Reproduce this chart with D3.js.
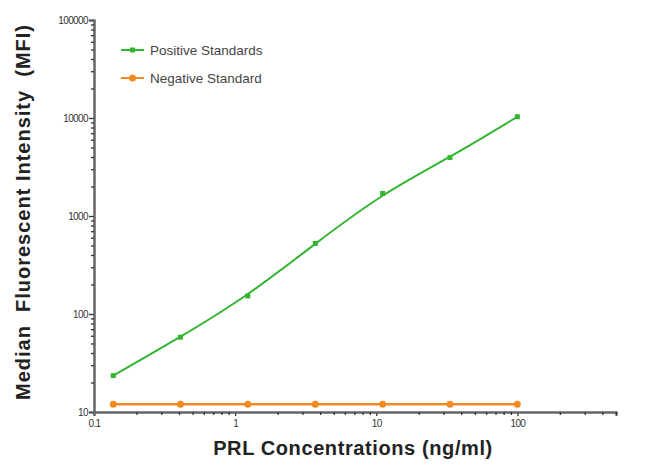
<!DOCTYPE html>
<html><head><meta charset="utf-8">
<script src="https://cdn.jsdelivr.net/npm/d3@7"></script>
<style>body{margin:0;background:#fff}svg{display:block}text{font-family:Arial,"Liberation Sans",sans-serif}</style>
</head><body>
<svg id="c" width="650" height="473"></svg>
<script>
const concentrations = [0.137, 0.41, 1.23, 3.7, 11.1, 33.3, 100];
const positiveMFI = [23.5, 58, 153, 525, 1700, 3950, 10300];
const negativeMFI = [12, 12, 12, 12, 12, 12, 12];
const xTickLabels = ["0.1", "1", "10", "100"];
const yTickLabels = ["10", "100", "1000", "10000", "100000"];
const seriesNames = ["Positive Standards", "Negative Standard"];

(function(){
const svg = d3.select("#c");
const mL = 94, mR = 616, mT = 20, mB = 412;
const x = d3.scaleLog().domain([0.1, 500]).range([mL, mR]);
const y = d3.scaleLog().domain([10, 100000]).range([mB, mT]);
const axisColor = "#666";

const yMinor = [];
for (let d = 10; d < 100000; d *= 10) for (let k = 2; k <= 9; k++) yMinor.push(d * k);
const xMinor = [];
for (let d = 0.1; d < 500; d *= 10) for (let k = 2; k <= 9; k++) if (d * k <= 500) xMinor.push(+(d * k).toPrecision(3));

const gy = svg.append("g").attr("transform", `translate(${mL},0)`);
gy.call(d3.axisLeft(y).tickValues(yTickLabels.map(Number)).tickFormat((d,i)=>yTickLabels[i]).tickSize(5).tickPadding(1));
gy.append("g").call(d3.axisLeft(y).tickValues(yMinor).tickFormat("").tickSize(3));
const gx = svg.append("g").attr("transform", `translate(0,${mB})`);
gx.call(d3.axisBottom(x).tickValues(xTickLabels.map(Number)).tickFormat((d,i)=>xTickLabels[i]).tickSize(4).tickPadding(4));
gx.append("g").call(d3.axisBottom(x).tickValues(xMinor).tickFormat("").tickSize(3));
svg.selectAll(".domain").attr("stroke", axisColor).attr("stroke-width", 2);
svg.selectAll(".tick line").attr("stroke", "#333").attr("stroke-width", 1.3);
svg.selectAll(".tick text").attr("font-size", 10).attr("fill", "#333").attr("letter-spacing", -0.6);

const green = "#33b533", orange = "#f28a22";
const line = d3.line().x((d, i) => x(concentrations[i])).y(d => y(d)).curve(d3.curveBasis);
svg.append("path").datum(positiveMFI).attr("d", line).attr("fill", "none").attr("stroke", green).attr("stroke-width", 2);
svg.selectAll(".pm").data(positiveMFI).enter().append("rect")
  .attr("x", (d, i) => x(concentrations[i]) - 2.5).attr("y", d => y(d) - 2.5)
  .attr("width", 5).attr("height", 5).attr("fill", green);
svg.append("path").datum(negativeMFI).attr("d", line).attr("fill", "none").attr("stroke", orange).attr("stroke-width", 2.5);
svg.selectAll(".nm").data(negativeMFI).enter().append("circle")
  .attr("cx", (d, i) => x(concentrations[i])).attr("cy", d => y(d)).attr("r", 3.5).attr("fill", orange);

const leg = [[green, 50], [orange, 78]];
leg.forEach((l, i) => {
  svg.append("line").attr("x1", 121).attr("x2", 144).attr("y1", l[1]).attr("y2", l[1]).attr("stroke", l[0]).attr("stroke-width", 2);
  if (i === 0) svg.append("rect").attr("x", 130).attr("y", l[1] - 2.5).attr("width", 5).attr("height", 5).attr("fill", l[0]);
  else svg.append("circle").attr("cx", 132.5).attr("cy", l[1]).attr("r", 3.5).attr("fill", l[0]);
  svg.append("text").attr("x", 150).attr("y", l[1] + 4.5).attr("font-size", 13.5).attr("fill", "#444").text(seriesNames[i]);
});

svg.append("text").attr("x", 353).attr("y", 455).attr("text-anchor", "middle").attr("font-size", 20).attr("font-weight", "bold").attr("letter-spacing", 0.6).attr("fill", "#222").text("PRL Concentrations (ng/ml)");
svg.append("text").attr("transform", "translate(30,212) rotate(-90)").attr("text-anchor", "middle").attr("font-size", 20).attr("font-weight", "bold").attr("letter-spacing", 1).attr("fill", "#222").style("white-space","pre").text("Median  Fluorescent Intensity  (MFI)");
})();
</script>
</body></html>
